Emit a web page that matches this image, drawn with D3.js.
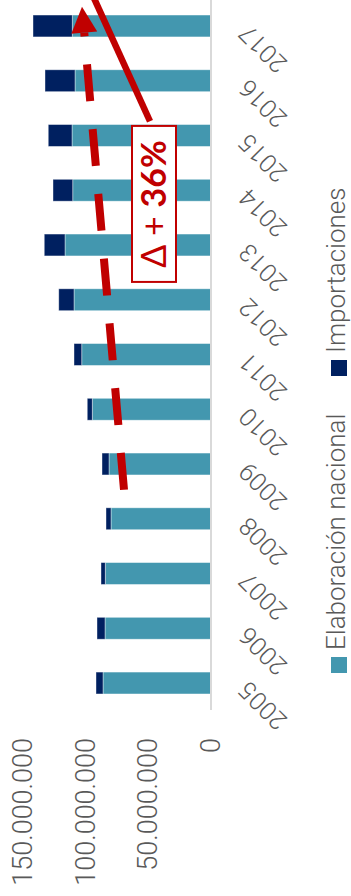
<!DOCTYPE html>
<html>
<head>
<meta charset="utf-8">
<script src="https://cdnjs.cloudflare.com/ajax/libs/d3/7.8.5/d3.min.js"></script>
<style>
  html, body { margin: 0; padding: 0; background: #fff; }
  svg { display: block; }
</style>
</head>
<body>
<div id="chart"></div>
<script>
// ---- data ----
const years = ["2005","2006","2007","2008","2009","2010","2011","2012","2013","2014","2015","2016","2017"];
const nacional = [86000000, 84400000, 84200000, 79600000, 81200000, 94600000, 103000000, 109200000, 116400000, 110200000, 110800000, 108400000, 110600000];
const importaciones = [5600000, 6400000, 3400000, 4000000, 5600000, 4000000, 6200000, 12200000, 16600000, 15800000, 19000000, 24000000, 31400000];
const valueTicks = [0, 50000000, 100000000, 150000000];
const seriesNames = ["Elaboración nacional", "Importaciones"];
// annotation anchors in data units (category index, value)
const arrowFrom = [3.53, 69200000];
const arrowTo = [12.35, 102800000];
const leaderFrom = [10.26, 48400000];
const leaderTo = [13.3, 109000000];
const labelAt = [8.75, 45200000];
const labelParts = ["Δ + ", "36%"];

// ---- layout (chart drawn in an unrotated 896 x 351 frame, then turned -90deg) ----
const SW = 351, SH = 896;
const colNac = "#4397AF", colImp = "#002060", red = "#C00000", grey = "#595959";
const font = "Roboto, 'Liberation Sans', sans-serif";

const svg = d3.select("#chart").append("svg").attr("width", SW).attr("height", SH);
const g = svg.append("g").attr("transform", `translate(0,${SH}) rotate(-90)`);

const x = d3.scaleBand().domain(years).range([185.6, 897.4]).paddingInner(0.6).paddingOuter(0.3);
const y = d3.scaleLinear().domain([0, 150000000]).range([210.5, 23]);
const pos = i => x(years[0]) + x.bandwidth() / 2 + i * x.step();

const rows = years.map((yr, i) => ({ yr, nac: nacional[i], imp: importaciones[i] }));
const stack = d3.stack().keys(["nac", "imp"])(rows);
const colors = { nac: colNac, imp: colImp };

// bars
g.append("g").selectAll("g").data(stack).join("g")
  .attr("fill", d => colors[d.key])
  .selectAll("rect").data(d => d).join("rect")
  .attr("x", d => x(d.data.yr))
  .attr("width", x.bandwidth())
  .attr("y", d => y(d[1]))
  .attr("height", d => y(d[0]) - y(d[1]))
  .attr("stroke", "#fff").attr("stroke-opacity", 0.5).attr("stroke-width", 0.8);

// category axis
const xAxis = g.append("g").attr("transform", `translate(0,${y(0)})`)
  .call(d3.axisBottom(x).tickSize(0).tickSizeOuter(0));
xAxis.select(".domain").attr("stroke", "#D9D9D9").attr("stroke-width", 2);
xAxis.selectAll("text")
  .attr("x", 0).attr("y", 0).attr("dy", 0)
  .attr("transform", "translate(3,39) rotate(-45)")
  .attr("text-anchor", "end")
  .attr("fill", grey)
  .style("font-family", font).style("font-weight", 300).style("font-size", "25px");

// value axis labels
const yAxis = g.append("g").attr("transform", "translate(160,0)")
  .call(d3.axisLeft(y).tickValues(valueTicks).tickSize(0).tickPadding(2)
    .tickFormat(d => d3.format(",")(d).replace(/,/g, ".")));
yAxis.select(".domain").remove();
yAxis.selectAll("text")
  .attr("fill", grey)
  .style("font-family", font).style("font-weight", 300).style("font-size", "27px");

// legend
const legX = [223, 520];
const leg = g.append("g").selectAll("g").data(seriesNames).join("g")
  .attr("transform", (d, i) => `translate(${legX[i]},331)`);
leg.append("rect").attr("width", 16).attr("height", 16).attr("fill", (d, i) => i === 0 ? colNac : colImp);
leg.append("text").attr("x", 23).attr("y", 5).attr("dy", "0.35em")
  .attr("fill", grey)
  .style("font-family", font).style("font-weight", 300).style("font-size", "26px")
  .text(d => d);

// annotation: dashed arrow
const p0 = [pos(arrowFrom[0]), y(arrowFrom[1])];
const p1 = [pos(arrowTo[0]), y(arrowTo[1])];
const dx = p1[0] - p0[0], dy = p1[1] - p0[1];
const len = Math.hypot(dx, dy);
const ux = dx / len, uy = dy / len;
const headLen = 26, headHalf = 13;
const base = [p1[0] - ux * headLen, p1[1] - uy * headLen];
g.append("line")
  .attr("x1", p0[0]).attr("y1", p0[1]).attr("x2", base[0]).attr("y2", base[1])
  .attr("stroke", red).attr("stroke-width", 8).attr("stroke-dasharray", "37,28");
g.append("path")
  .attr("d", d3.line()([
    p1,
    [base[0] - uy * headHalf, base[1] + ux * headHalf],
    [base[0] + uy * headHalf, base[1] - ux * headHalf]
  ]) + "Z")
  .attr("fill", red);

// leader line
g.append("line")
  .attr("x1", pos(leaderFrom[0])).attr("y1", y(leaderFrom[1]))
  .attr("x2", pos(leaderTo[0])).attr("y2", y(leaderTo[1]))
  .attr("stroke", red).attr("stroke-width", 6.5);

// label box
const cx = pos(labelAt[0]), cy = y(labelAt[1]);
g.append("rect")
  .attr("x", cx - 78).attr("y", cy - 22).attr("width", 156).attr("height", 44)
  .attr("fill", "#fff").attr("stroke", red).attr("stroke-width", 2);
const t = g.append("text").attr("x", cx).attr("y", cy).attr("dy", "0.36em")
  .attr("text-anchor", "middle").attr("fill", red)
  .style("font-family", "Lato, 'Open Sans', sans-serif").style("font-size", "34px");
t.append("tspan").text(labelParts[0]);
t.append("tspan").style("font-weight", 700).text(labelParts[1]);
</script>
</body>
</html>
